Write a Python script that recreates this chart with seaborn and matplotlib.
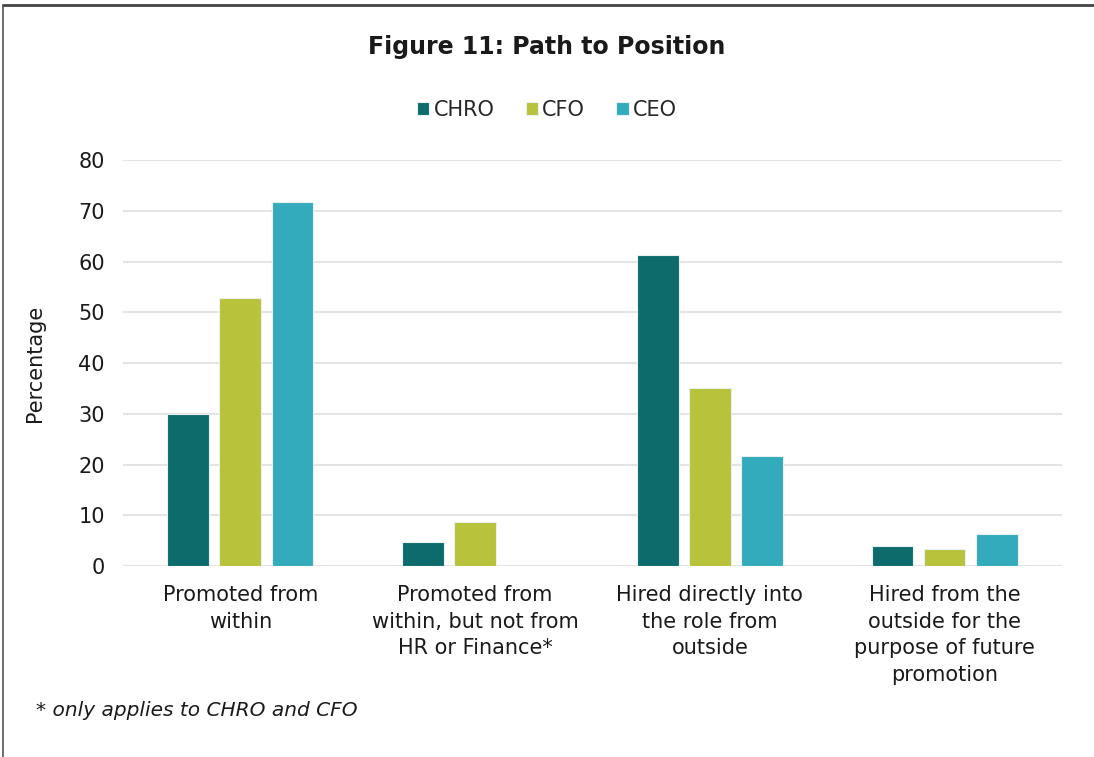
import seaborn as sns
import matplotlib.pyplot as plt
import pandas as pd
import numpy as np
from matplotlib.lines import Line2D

categories = ['Promoted from\nwithin',
              'Promoted from\nwithin, but not from\nHR or Finance*',
              'Hired directly into\nthe role from\noutside',
              'Hired from the\noutside for the\npurpose of future\npromotion']
roles = ['CHRO', 'CFO', 'CEO']
chro = [30, 4.8, 61.2, 3.9]
cfo = [52.9, 8.7, 35.1, 3.4]
ceo = [71.8, np.nan, 21.6, 6.3]
colors = ['#0e6b6b', '#b8c23a', '#33abbd']

df = pd.DataFrame({
    'category': categories * 3,
    'role': [r for r in roles for _ in categories],
    'value': chro + cfo + ceo,
})

sns.set_style('white')
plt.rcParams['font.family'] = ['DejaVu Sans']

fig = plt.figure(figsize=(10.94, 7.57), dpi=100)
ax = fig.add_axes([0.1124, 0.2523, 0.8583, 0.5363])

sns.barplot(data=df, x='category', y='value', hue='role', order=categories,
            hue_order=roles, palette=colors, saturation=1, width=0.667, gap=0.2,
            edgecolor='#e8f0f0', linewidth=0.8, ax=ax)

ax.set_ylim(0, 80)
ax.set_xlim(-0.5, 3.5)
ax.set_yticks(range(0, 81, 10))
ax.grid(axis='y', color='#e4e4e4', linewidth=1.5)
ax.set_axisbelow(True)
sns.despine(ax=ax, left=True, bottom=True)
ax.tick_params(axis='y', length=0, pad=13, labelsize=15, labelcolor='#1a1a1a')
ax.tick_params(axis='x', length=0, pad=14, labelsize=15, labelcolor='#1a1a1a')
for lbl in ax.get_xticklabels():
    lbl.set_linespacing(1.4)
    lbl.set_verticalalignment('top')
ax.set_xlabel('')
ax.set_ylabel('Percentage', fontsize=15, color='#1a1a1a')
ax.yaxis.set_label_coords(-0.083, 0.5)

sns.move_legend(ax, 'center', bbox_to_anchor=(0.5, 0.855),
                bbox_transform=fig.transFigure, ncol=3, frameon=False,
                title=None, fontsize=15, handlelength=0.6, handleheight=0.6,
                handletextpad=0.2, columnspacing=1.5)

fig.text(0.5, 0.938, 'Figure 11: Path to Position', ha='center', va='center',
         fontsize=17, fontweight='bold', color='#1a1a1a')
fig.text(0.033, 0.062, '* only applies to CHRO and CFO', ha='left', va='center',
         fontsize=14.5, style='italic', color='#1a1a1a')

fig.add_artist(Line2D([0.003, 1.0], [0.9935, 0.9935], color='#444444', linewidth=2))
fig.add_artist(Line2D([0.003, 0.003], [0.0, 0.9935], color='#555555', linewidth=1.2))

fig.savefig('out.png', dpi=100)
